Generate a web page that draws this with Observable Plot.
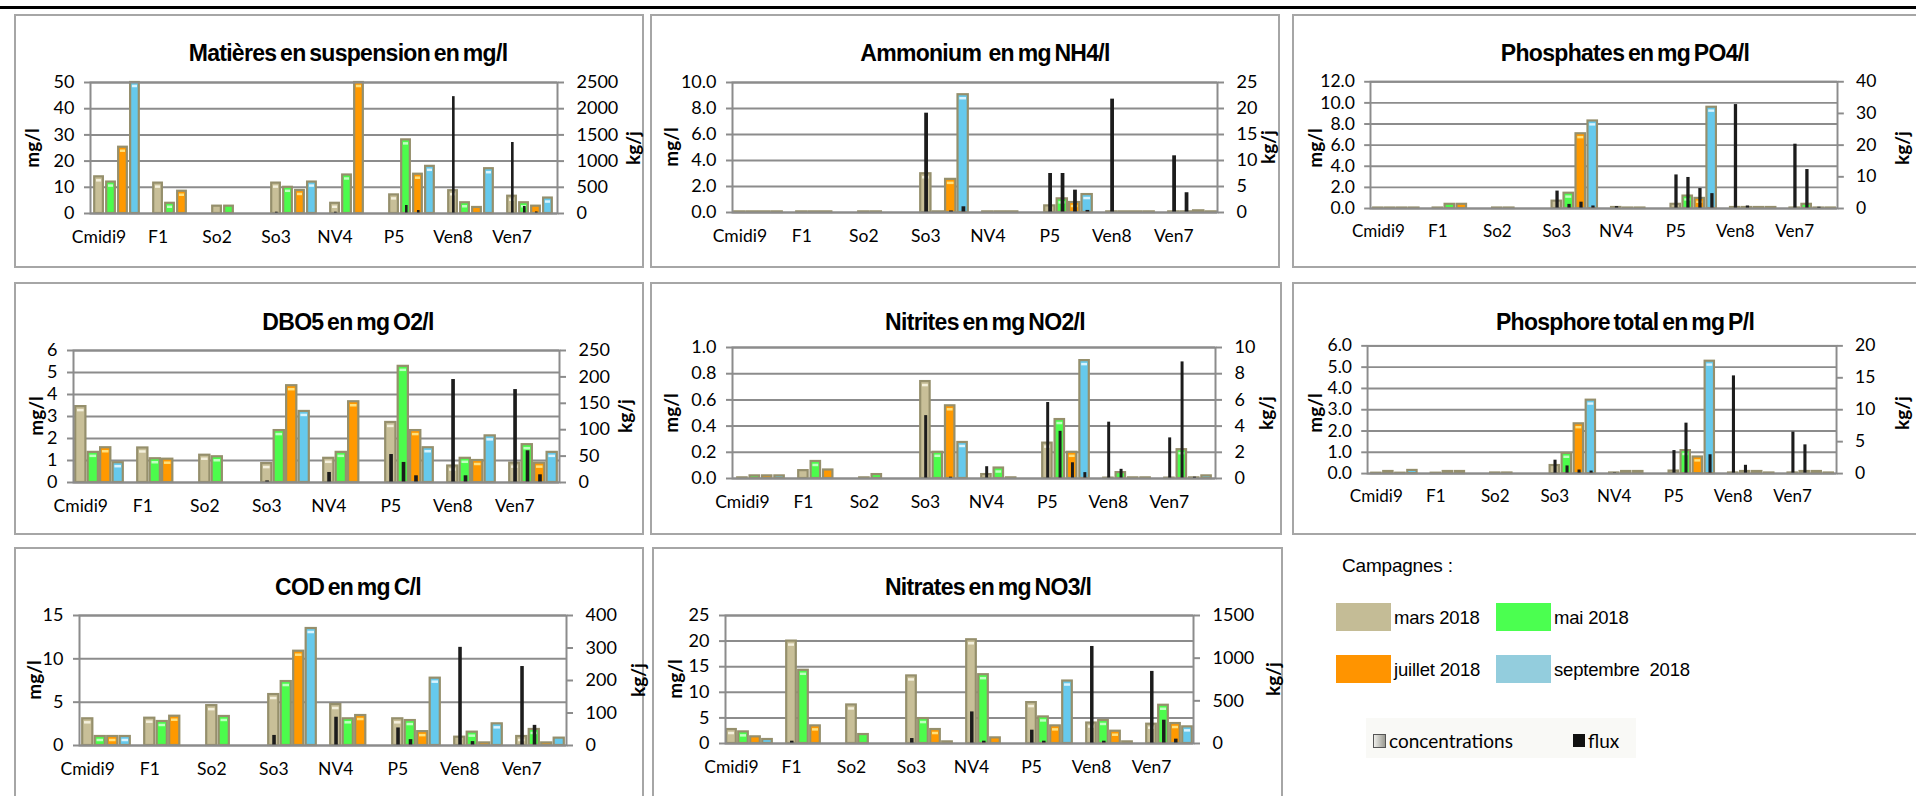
<!DOCTYPE html>
<html><head><meta charset="utf-8">
<script src="https://cdn.jsdelivr.net/npm/d3@7"></script>
<script src="https://cdn.jsdelivr.net/npm/@observablehq/plot@0.6"></script>
<style>
html,body{margin:0;padding:0;background:#fff;}
body{width:1916px;height:796px;overflow:hidden;position:relative;font-family:"Liberation Sans",Arial,sans-serif;color:#000;}
.topline{position:absolute;left:0;top:6px;width:1916px;height:3px;background:#000;}
.box{position:absolute;border:2px solid #a6a6a6;box-sizing:border-box;}
.plot{position:absolute;}
.plot svg{overflow:visible;display:block;}
.title{position:absolute;font-weight:bold;font-size:23px;letter-spacing:-0.7px;word-spacing:-2px;white-space:pre;transform:translate(-50%,-50%);}
.vlab{position:absolute;font-family:Lato,sans-serif;font-weight:bold;font-size:19px;white-space:nowrap;transform:translate(-50%,-50%) rotate(-90deg);}
.leg{position:absolute;white-space:pre;transform:translateY(-50%);font-size:18.5px;letter-spacing:-0.2px;}
.sw{position:absolute;width:55px;height:28px;}
</style>
</head><body>
<div class="topline"></div>
<div id="root"></div>
<script>
// ---------- categories ----------
const sites = ["Cmidi9", "F1", "So2", "So3", "NV4", "P5", "Ven8", "Ven7"];
const campaigns = ["mars 2018", "mai 2018", "juillet 2018", "septembre  2018"];

// ---------- values: rows = sites, columns = campaigns (mars, mai, juillet, septembre) ----------
// Matières en suspension (mg/l) and flux (kg/j)
const mesConc = [[14, 12, 25.3, 50], [11.6, 3.9, 8.5, null], [2.8, 2.8, null, null], [11.6, 10, 8.8, 12],
                 [3.9, 14.7, 50, null], [7.1, 28.1, 15, 18], [8.7, 4.1, 2.3, 17.1], [6.6, 4.1, 2.8, 5.9]];
const mesFlux = [[null, null, null, null], [null, null, null, null], [null, null, null, null], [25, null, null, null],
                 [25, null, null, null], [null, 153, 57, null], [2230, null, null, null], [1355, 134, 30, null]];
// Ammonium (mg NH4/l)
const nh4Conc = [[0.05, 0.05, 0.05, 0.05], [0.05, 0.05, 0.05, null], [0.05, 0.05, null, null], [2.98, 0.05, 2.55, 9.06],
                 [0.05, 0.05, 0.05, null], [0.51, 1.05, 0.77, 1.38], [0.05, 0.05, 0.05, 0.05], [0.05, 0.05, 0.13, 0.05]];
const nh4Flux = [[null, null, null, null], [null, null, null, null], [null, null, null, null], [19.1, null, 0.3, 1.1],
                 [null, null, null, null], [7.5, 7.5, 4.3, 0.4], [21.8, null, null, null], [10.9, 3.8, null, null]];
// Phosphates (mg PO4/l)
const po4Conc = [[0.05, 0.05, 0.05, 0.05], [0.05, 0.4, 0.4, null], [0.05, 0.05, null, null], [0.7, 1.45, 7.08, 8.29],
                 [0.1, 0.05, 0.05, null], [0.4, 1.18, 0.96, 9.59], [0.1, 0.1, 0.1, 0.1], [0.05, 0.4, 0.05, 0.05]];
const po4Flux = [[null, null, null, null], [null, null, null, null], [null, null, null, null], [5.5, 1.3, 2.0, 0.8],
                 [0.6, null, null, null], [10.6, 9.8, 6.3, 4.7], [32.8, 0.8, null, null], [20.3, 12.3, 0.4, null]];
// DBO5 (mg O2/l)
const dboConc = [[3.45, 1.37, 1.58, 0.9], [1.57, 1.08, 1.06, null], [1.24, 1.17, null, null], [0.86, 2.36, 4.4, 3.23],
                 [1.1, 1.37, 3.67, null], [2.73, 5.28, 2.36, 1.58], [0.75, 1.1, 1.0, 2.12], [0.88, 1.72, 0.88, 1.37]];
const dboFlux = [[null, null, null, null], [null, null, null, null], [null, null, null, null], [3, null, null, null],
                 [19, null, null, null], [53, 38, 12.7, null], [195, 12.7, null, null], [176, 60, 14.6, null]];
// Nitrites (mg NO2/l)
const no2Conc = [[0.005, 0.02, 0.02, 0.02], [0.06, 0.13, 0.065, null], [0.005, 0.03, null, null], [0.74, 0.2, 0.555, 0.275],
                 [0.03, 0.08, 0.005, null], [0.27, 0.45, 0.2, 0.9], [0.003, 0.045, 0.005, 0.005], [0.003, 0.22, 0.005, 0.02]];
const no2Flux = [[null, null, null, null], [null, null, null, null], [null, null, null, null], [4.8, null, 0.1, null],
                 [0.9, null, null, null], [5.8, 3.6, 1.2, 0.45], [4.3, 0.7, null, null], [3.1, 8.9, 0.1, null]];
// Phosphore total (mg P/l)
const ptConc = [[0.02, 0.1, 0.02, 0.15], [0.02, 0.1, 0.1, null], [0.03, 0.03, null, null], [0.38, 0.95, 2.34, 3.45],
                [0.03, 0.1, 0.1, null], [0.12, 1.08, 0.78, 5.28], [0.03, 0.1, 0.1, 0.03], [0.03, 0.1, 0.1, 0.03]];
const ptFlux = [[null, null, null, null], [null, null, null, null], [null, null, null, null], [2.1, 1.2, 0.56, 0.4],
                [0.1, null, null, null], [3.6, 7.9, null, 2.95], [15.3, 1.3, null, null], [6.5, 4.5, null, null]];
// COD (mg C/l)
const codConc = [[3.08, 1.04, 1.04, 1.04], [3.15, 2.77, 3.38, null], [4.6, 3.35, null, null], [5.88, 7.38, 10.88, 13.5],
                 [4.73, 3.08, 3.46, null], [3.08, 2.88, 1.6, 7.77], [0.96, 1.54, 0.3, 2.5], [1.04, 1.85, 0.3, 0.85]];
const codFlux = [[null, null, null, null], [null, null, null, null], [null, null, null, null], [31, null, null, null],
                 [87, null, null, null], [54, 18, null, null], [302, 12, null, null], [243, 62, null, null]];
// Nitrates (mg NO3/l)
const no3Conc = [[2.73, 2.27, 1.3, 0.78], [20, 14.3, 3.44, null], [7.53, 1.75, null, null], [13.2, 4.87, 2.73, 0.32],
                 [20.26, 13.44, 1.1, null], [7.99, 5.19, 3.44, 12.2], [4.0, 4.5, 2.4, 0.32], [3.77, 7.47, 3.9, 3.25]];
const no3Flux = [[null, null, null, null], [27, null, null, null], [null, null, null, null], [58, null, null, null],
                 [370, 27, null, null], [156, 27, null, null], [1137, 27, null, null], [845, 273, 51, null]];

// ---------- panel titles and axes: [max, step, decimals] left (mg/l), [max, step] right (kg/j) ----------
const titles = ["Matières en suspension en mg/l", "Ammonium  en mg NH4/l", "Phosphates en mg PO4/l",
                "DBO5 en mg O2/l", "Nitrites en mg NO2/l", "Phosphore total en mg P/l",
                "COD en mg C/l", "Nitrates en mg NO3/l"];
const leftAxes = [[50, 10, 0], [10, 2, 1], [12, 2, 1], [6, 1, 0], [1, 0.2, 1], [6, 1, 1], [15, 5, 0], [25, 5, 0]];
const rightAxes = [[2500, 500], [25, 5], [40, 10], [250, 50], [10, 2], [20, 5], [400, 100], [1500, 500]];
const concData = [mesConc, nh4Conc, po4Conc, dboConc, no2Conc, ptConc, codConc, no3Conc];
const fluxData = [mesFlux, nh4Flux, po4Flux, dboFlux, no2Flux, ptFlux, codFlux, no3Flux];

// ---------- styling / layout ----------
const fills = ["#c8bf98", "#4cfc4c", "#ff9900", "#66c9ec"];
const lights = ["#f4f0dc", "#bfffbf", "#ffe07a", "#d8f4ff"];
const legendFills = ["#c4bc96", "#4bff50", "#ff9400", "#93cddd"];
const border = "#958f6c";
const grid = "#8c8c8c";
const layout = [
  {box: [14, 14, 630, 254], axL: 90, axR: 557, yTop: 82, yZero: 213, tx: 348, ty: 53, mg: 31, kg: 632},
  {box: [650, 14, 630, 254], axL: 732, axR: 1217, yTop: 82, yZero: 212, tx: 985, ty: 53, mg: 670, kg: 1267},
  {box: [1292, 14, 640, 254], axL: 1372, axR: 1851, yTop: 83, yZero: 213, tx: 1625, ty: 53, mg: 1314, kg: 1901},
  {box: [14, 282, 630, 253], axL: 73, axR: 559, yTop: 350, yZero: 482, tx: 348, ty: 322, mg: 35, kg: 624},
  {box: [650, 282, 632, 253], axL: 732, axR: 1215, yTop: 347, yZero: 478, tx: 985, ty: 322, mg: 670, kg: 1265},
  {box: [1292, 282, 640, 253], axL: 1369, axR: 1850, yTop: 347, yZero: 478, tx: 1625, ty: 322, mg: 1314, kg: 1901},
  {box: [14, 547, 630, 260], axL: 79, axR: 566, yTop: 615, yZero: 745, tx: 348, ty: 587, mg: 33, kg: 637},
  {box: [652, 547, 631, 260], axL: 725, axR: 1193, yTop: 615, yZero: 743, tx: 988, ty: 587, mg: 674, kg: 1272}
];

const root = document.getElementById("root");
function el(cls, css, text) {
  const d = document.createElement("div");
  d.className = cls;
  Object.assign(d.style, css);
  if (text != null) d.textContent = text;
  root.appendChild(d);
  return d;
}

layout.forEach((L, k) => {
  const [bx, by, bw, bh] = L.box;
  el("box", {left: bx + "px", top: by + "px", width: bw + "px", height: bh + "px"});
  const [lMax, lStep, dec] = leftAxes[k];
  const [rMax, rStep] = rightAxes[k];
  const ratio = lMax / rMax;
  const plotH = L.yZero - L.yTop;
  const step = (L.axR - L.axL) / (sites.length - 0.2);
  const band = step * 0.8;
  const s = band / 4;
  const rows = [], frows = [];
  concData[k].forEach((vals, si) => vals.forEach((v, ci) => { if (v != null) rows.push({site: sites[si], ci, v}); }));
  fluxData[k].forEach((vals, si) => vals.forEach((v, ci) => { if (v != null) frows.push({site: sites[si], ci, v}); }));
  const leftTicks = d3.range(0, lMax + lStep / 2, lStep);
  const rightTicks = d3.range(0, rMax + rStep / 2, rStep);

  const marks = [Plot.gridY({ticks: leftTicks, stroke: grid, strokeOpacity: 1, strokeWidth: 2})];
  campaigns.forEach((c, i) => {
    marks.push(Plot.barY(rows.filter(d => d.ci === i), {
      x: "site", y: "v", fill: fills[i], stroke: border, strokeWidth: 2.2,
      insetLeft: i * s + 1.2, insetRight: (3 - i) * s + 1.2
    }));
    marks.push(Plot.tickY(rows.filter(d => d.ci === i && d.v / lMax * plotH > 9), {
      x: "site", y: "v", stroke: lights[i], strokeWidth: 2.5,
      insetLeft: i * s + 3, insetRight: (3 - i) * s + 3, dy: 3.5
    }));
  });
  campaigns.forEach((c, i) => {
    marks.push(Plot.barY(frows.filter(d => d.ci === i), {
      x: "site", y: d => d.v * ratio, fill: "#1c1c1c",
      insetLeft: i * s + 0.42 * s, insetRight: band - (i * s + 0.42 * s + 3.5)
    }));
  });
  marks.push(Plot.frame({stroke: grid, strokeWidth: 2}));
  marks.push(Plot.axisY({ticks: leftTicks, tickFormat: d => d.toFixed(dec), tickSize: 6, tickPadding: 10,
    stroke: grid, strokeWidth: 2, label: null, fontSize: 18}));
  marks.push(Plot.axisY({anchor: "right", ticks: rightTicks.map(v => v * ratio),
    tickFormat: d => String(Math.round(d / ratio)), tickSize: 6, tickPadding: 13,
    stroke: grid, strokeWidth: 2, label: null, fontSize: 18}));
  marks.push(Plot.axisX({tickSize: 0, tickPadding: 17, dx: -(band / 2 - s / 2), label: null, fontSize: 17.5}));

  const chart = Plot.plot({
    width: bw, height: bh,
    marginLeft: L.axL - bx, marginRight: bx + bw - L.axR,
    marginTop: L.yTop - by, marginBottom: by + bh - L.yZero,
    style: {fontFamily: "Lato, sans-serif", fontSize: "17px", background: "transparent", color: "#000", overflow: "visible"},
    x: {type: "band", domain: sites, paddingInner: 0.2, paddingOuter: 0},
    y: {domain: [0, lMax]},
    marks
  });
  const wrap = el("plot", {left: bx + "px", top: by + "px"});
  wrap.appendChild(chart);
  el("title", {left: L.tx + "px", top: L.ty + "px"}, titles[k]);
  const midY = (L.yTop + L.yZero) / 2;
  el("vlab", {left: L.mg + "px", top: midY + "px"}, "mg/l");
  el("vlab", {left: L.kg + "px", top: midY + "px"}, "kg/j");
});

// ---------- legend ----------
el("leg", {left: "1342px", top: "566px", fontSize: "19px"}, "Campagnes :");
const legPos = [[1336, 603], [1496, 603], [1336, 655], [1496, 655]];
campaigns.forEach((c, i) => {
  const [x, y] = legPos[i];
  el("sw", {left: x + "px", top: y + "px", background: legendFills[i]});
  el("leg", {left: (x + 58) + "px", top: (y + 15) + "px"}, c);
});
el("sw", {left: "1366px", top: "718px", width: "270px", height: "40px", background: "#f9f9f6"});
el("sw", {left: "1373px", top: "734px", width: "11px", height: "12px", background: "linear-gradient(90deg,#eeeeea,#9a9a92)", border: "1px solid #555"});
el("leg", {left: "1389px", top: "740px", fontFamily: "Lato, sans-serif", fontSize: "19px", letterSpacing: "0"}, "concentrations");
el("sw", {left: "1573px", top: "734px", width: "12px", height: "13px", background: "#111"});
el("leg", {left: "1588px", top: "740px", fontFamily: "Lato, sans-serif", fontSize: "19px", letterSpacing: "0"}, "flux");
</script>
</body></html>
